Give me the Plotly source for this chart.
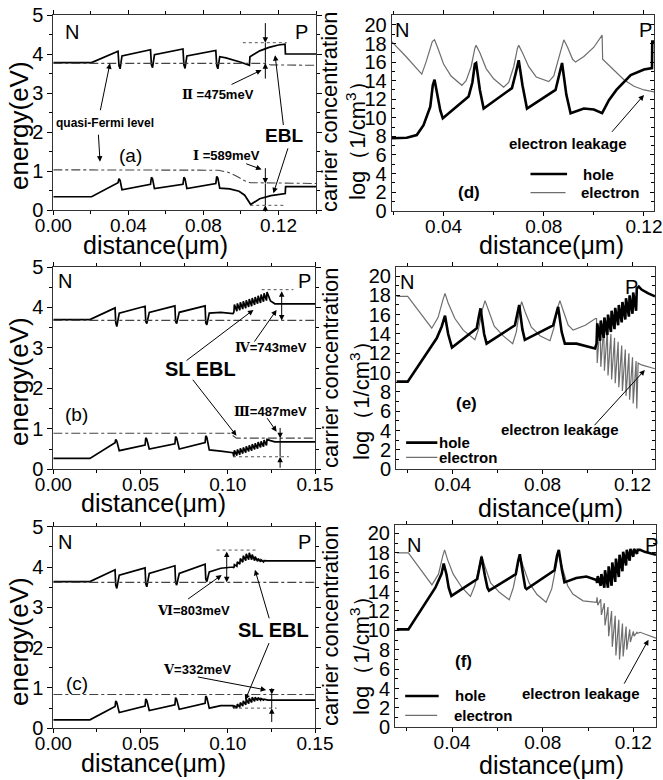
import plotly.graph_objects as go

W, H = 663, 780
FONT = "Liberation Sans, Arial, sans-serif"

# ---------------- data ----------------
# panel (a): energy band diagram, conventional EBL
a_cb_x = [0, 0.0204, 0.0345, 0.0350, 0.0356, 0.0366, 0.0518, 0.0523, 0.0529, 0.0539, 0.0691, 0.0696, 0.0702,
          0.0712, 0.0866, 0.0871, 0.0877, 0.0887, 0.0920, 0.0960, 0.1000, 0.1045, 0.1048, 0.1100, 0.1150, 0.1200,
          0.1235, 0.1237, 0.14]
a_cb_y = [3.78, 3.78, 4.07, 3.70, 3.62, 3.95, 4.11, 3.72, 3.65, 3.98, 4.13, 3.72, 3.63, 3.95, 4.09, 3.70, 3.62,
          3.93, 3.90, 3.85, 3.79, 3.71, 3.93, 4.08, 4.17, 4.23, 4.25, 4.00, 4.00]
a_fu_x = [0, 0.112, 0.116, 0.14]
a_fu_y = [3.76, 3.76, 3.72, 3.71]
a_vb_x = [0, 0.0204, 0.0345, 0.0350, 0.0356, 0.0366, 0.0518, 0.0523, 0.0529, 0.0539, 0.0691, 0.0696, 0.0702,
          0.0712, 0.0866, 0.0871, 0.0877, 0.0887, 0.0940, 0.0990, 0.1020, 0.1040, 0.1052, 0.1100, 0.1160, 0.1236,
          0.1238, 0.14]
a_vb_y = [0.34, 0.34, 0.70, 0.80, 0.76, 0.52, 0.66, 0.84, 0.80, 0.55, 0.66, 0.84, 0.80, 0.55, 0.68, 0.86, 0.82,
          0.56, 0.54, 0.48, 0.38, 0.25, 0.14, 0.29, 0.37, 0.42, 0.60, 0.60]
a_fl_x = [0, 0.088, 0.093, 0.098, 0.102, 0.105, 0.14]
a_fl_y = [1.03, 1.02, 0.97, 0.86, 0.75, 0.70, 0.68]

# panels (b) and (c): shared QW positions
qw_x = [0, 0.021, 0.0354, 0.0358, 0.0364, 0.0378, 0.0526, 0.0530, 0.0536, 0.0550, 0.0697, 0.0701, 0.0707, 0.0722,
        0.0870, 0.0874, 0.0880, 0.0894, 0.0960, 0.1030]
# (b)
b_cb_y = [3.70, 3.70, 3.99, 3.62, 3.53, 3.86, 4.03, 3.65, 3.60, 3.88, 4.04, 3.65, 3.60, 3.88, 4.04, 3.62, 3.57,
          3.86, 3.88, 3.85]
b_sl_x = [0.1035, 0.1052, 0.1069, 0.1086, 0.1103, 0.1120, 0.1137, 0.1154, 0.1171, 0.1188, 0.1205, 0.1222]
b_cb_lo = [3.88, 3.91, 3.93, 3.96, 3.98, 4.01, 4.03, 4.06, 4.09, 4.11, 4.14, 4.17]
b_cb_hi = [4.07, 4.10, 4.13, 4.15, 4.18, 4.21, 4.23, 4.26, 4.29, 4.32, 4.35, 4.38]
b_cb_tail_x = [0.1245, 0.1270, 0.15]
b_cb_tail_y = [4.16, 4.09, 4.09]
b_vb_y = [0.27, 0.27, 0.66, 0.74, 0.70, 0.46, 0.60, 0.78, 0.74, 0.50, 0.63, 0.81, 0.77, 0.50, 0.66, 0.83, 0.79,
          0.48, 0.45, 0.41]
b_vb_lo = [0.31, 0.34, 0.36, 0.39, 0.41, 0.44, 0.46, 0.49, 0.51, 0.54, 0.56, 0.59]
b_vb_hi = [0.47, 0.49, 0.52, 0.54, 0.57, 0.59, 0.62, 0.64, 0.67, 0.69, 0.72, 0.74]
b_vb_tail_x = [0.1245, 0.1270, 0.15]
b_vb_tail_y = [0.71, 0.68, 0.68]
b_fu_x, b_fu_y = [0, 0.15], [3.68, 3.68]
b_fl_x, b_fl_y = [0, 0.101, 0.105, 0.15], [0.89, 0.89, 0.77, 0.77]
# (c)
c_cb_y = [3.64, 3.64, 3.93, 3.55, 3.47, 3.80, 3.98, 3.58, 3.51, 3.84, 4.03, 3.62, 3.55, 3.84, 4.07, 3.70, 3.64,
          3.88, 3.97, 4.00]
c_sl_x = [0.1035, 0.1052, 0.1069, 0.1086, 0.1103, 0.1120, 0.1137, 0.1154, 0.1171, 0.1188, 0.1205]
c_cb_lo = [3.98, 4.02, 4.07, 4.12, 4.16, 4.18, 4.18, 4.16, 4.14, 4.13, 4.13]
c_cb_hi = [4.06, 4.13, 4.21, 4.28, 4.33, 4.35, 4.31, 4.26, 4.21, 4.18, 4.16]
c_cb_tail_x = [0.1230, 0.130, 0.15]
c_cb_tail_y = [4.15, 4.15, 4.15]
c_vb_y = [0.21, 0.21, 0.54, 0.68, 0.64, 0.39, 0.55, 0.73, 0.69, 0.44, 0.58, 0.76, 0.72, 0.47, 0.62, 0.80, 0.76,
          0.50, 0.56, 0.56]
c_vb_lo = [0.50, 0.50, 0.52, 0.55, 0.58, 0.61, 0.64, 0.67, 0.69, 0.70, 0.70]
c_vb_hi = [0.56, 0.60, 0.64, 0.68, 0.72, 0.75, 0.77, 0.77, 0.76, 0.74, 0.72]
c_vb_tail_x = [0.1230, 0.15]
c_vb_tail_y = [0.70, 0.70]
c_fu_x, c_fu_y = [0, 0.15], [3.62, 3.62]
c_fl_x, c_fl_y = [0, 0.15], [0.84, 0.84]

# (d): carrier concentration, conventional EBL
d_e_x = [0.0193, 0.025, 0.0313, 0.033, 0.0355, 0.0364, 0.038, 0.040, 0.043, 0.0473, 0.049, 0.051, 0.0525, 0.053,
         0.0545, 0.057, 0.060, 0.064, 0.066, 0.068, 0.0695, 0.070, 0.0715, 0.074, 0.077, 0.082, 0.084, 0.086,
         0.0875, 0.088, 0.0895, 0.0915, 0.0927, 0.096, 0.100, 0.1033, 0.1035, 0.108, 0.112, 0.116, 0.120, 0.124]
d_e_y = [18.2, 16.6, 14.7, 16.0, 18.2, 18.4, 17.3, 15.8, 14.5, 13.5, 14.0, 15.5, 17.5, 17.8, 17.0, 15.3, 14.2,
         13.3, 13.8, 15.5, 17.5, 17.8, 17.0, 15.5, 14.4, 13.9, 14.5, 16.5, 18.2, 18.4, 17.6, 16.3, 16.0, 16.6,
         17.6, 18.9, 16.3, 15.1, 14.1, 13.4, 13.0, 12.8]
d_h_x = [0.0193, 0.0253, 0.0293, 0.0320, 0.0347, 0.0357, 0.0364, 0.0375, 0.0387, 0.0397, 0.0500, 0.0515, 0.0525,
         0.0530, 0.0545, 0.0560, 0.0673, 0.0688, 0.0700, 0.0715, 0.0733, 0.0847, 0.0862, 0.0873, 0.0890, 0.0907,
         0.0960, 0.1000, 0.1033, 0.1060, 0.1090, 0.1147, 0.1200, 0.1232, 0.1233, 0.124]
d_h_y = [7.8, 7.85, 8.15, 9.2, 11.2, 13.5, 14.1, 12.5, 10.8, 9.95, 12.3, 13.8, 15.8, 15.9, 13.0, 11.0, 13.2,
         14.8, 16.2, 13.5, 11.0, 13.0, 14.8, 15.9, 12.5, 10.5, 11.0, 10.9, 10.5, 11.9, 13.0, 14.6, 15.2, 15.35,
         18.2, 18.2]

# (e): carrier concentration, SL EBL
e_h_x = [0.0151, 0.0200, 0.0329, 0.0351, 0.0366, 0.0380, 0.0397, 0.0507, 0.0518, 0.0524, 0.0540, 0.0551, 0.0677,
         0.0690, 0.0696, 0.0710, 0.0721, 0.0847, 0.0862, 0.0869, 0.0885, 0.0899, 0.0951, 0.1033]
e_h_y = [9.07, 9.07, 13.55, 14.75, 15.9, 14.0, 12.6, 14.6, 16.0, 16.65, 14.0, 13.0, 14.9, 16.5, 17.0, 14.5, 13.4,
         14.9, 16.3, 16.8, 14.2, 13.0, 13.0, 12.5]
e_sl_x = [0.1040, 0.1056, 0.1072, 0.1088, 0.1104, 0.1120, 0.1136, 0.1152, 0.1168, 0.1184, 0.1200, 0.1216]
e_h_lo = [13.0, 13.3, 13.6, 13.9, 14.2, 14.5, 14.9, 15.2, 15.5, 15.8, 16.1, 16.4]
e_h_hi = [15.1, 15.4, 15.7, 16.0, 16.4, 16.7, 17.0, 17.3, 17.7, 18.0, 18.3, 18.7]
e_h_tail_x = [0.1228, 0.1240, 0.1270, 0.130]
e_h_tail_y = [18.9, 18.6, 18.2, 17.9]
e_e_x = [0.0151, 0.0200, 0.0307, 0.0335, 0.0355, 0.0366, 0.0380, 0.0410, 0.0447, 0.0499, 0.0515, 0.0533, 0.0544,
         0.0558, 0.0585, 0.0625, 0.0667, 0.0683, 0.0698, 0.0707, 0.0722, 0.0750, 0.0790, 0.0833, 0.0850, 0.0867,
         0.0877, 0.0892, 0.0914, 0.0936, 0.0990, 0.1035]
e_e_y = [17.9, 17.9, 14.6, 15.7, 17.4, 18.2, 17.2, 15.6, 14.4, 13.4, 14.5, 16.6, 17.45, 16.5, 14.8, 13.8, 13.0,
         14.2, 16.5, 17.35, 16.3, 14.7, 13.8, 13.3, 14.6, 16.7, 17.45, 16.4, 14.9, 14.4, 14.9, 15.6]
e_e_hi = [15.6, 15.2, 14.8, 14.4, 14.0, 13.6, 13.2, 12.8, 12.4, 12.0, 11.6, 11.2]
e_e_lo = [11.0, 10.6, 10.2, 9.7, 9.3, 8.9, 8.5, 8.1, 7.6, 7.2, 6.8, 6.3]
e_e_tail_x = [0.1225, 0.1240, 0.130]
e_e_tail_y = [11.0, 10.8, 10.4]

# (f): carrier concentration, graded SL EBL
f_h_x = [0.0156, 0.0207, 0.0326, 0.0353, 0.0363, 0.0375, 0.0385, 0.0397, 0.0511, 0.0522, 0.0530, 0.0545, 0.0556,
         0.0563, 0.0681, 0.0692, 0.0699, 0.0713, 0.0723, 0.0729, 0.0852, 0.0863, 0.0871, 0.0885, 0.0896, 0.0948,
         0.0993, 0.1037]
f_h_y = [10.1, 10.1, 14.4, 15.8, 16.9, 15.8, 14.4, 13.55, 15.3, 16.9, 17.6, 15.6, 14.4, 14.1, 15.8, 17.2, 17.85,
         15.8, 14.4, 14.25, 16.2, 17.7, 18.3, 16.2, 14.95, 15.4, 15.55, 15.2]
f_sl_x = [0.1040, 0.1056, 0.1072, 0.1088, 0.1104, 0.1120, 0.1136, 0.1152, 0.1168, 0.1184, 0.1200, 0.1216]
f_h_lo = [14.9, 14.6, 14.4, 14.4, 14.6, 15.0, 15.5, 16.1, 16.7, 17.2, 17.6, 17.9]
f_h_hi = [15.6, 15.8, 16.2, 16.6, 17.0, 17.4, 17.8, 18.1, 18.3, 18.4, 18.4, 18.3]
f_h_tail_x = [0.1230, 0.1250, 0.1300]
f_h_tail_y = [18.3, 18.1, 17.8]
f_e_x = [0.0156, 0.0207, 0.0311, 0.0340, 0.0358, 0.0367, 0.0380, 0.0405, 0.0444, 0.0481, 0.0500, 0.0520, 0.0530,
         0.0545, 0.0570, 0.0610, 0.0652, 0.0670, 0.0690, 0.0699, 0.0714, 0.0740, 0.0775, 0.0815, 0.0840, 0.0862,
         0.0871, 0.0885, 0.0910, 0.0933, 0.0978, 0.1037]
f_e_y = [18.0, 18.0, 14.7, 15.8, 17.6, 18.3, 17.3, 15.8, 14.4, 13.5, 14.6, 16.9, 17.7, 16.6, 14.9, 13.9, 13.15,
         14.4, 16.9, 17.7, 16.6, 14.9, 13.7, 12.9, 14.3, 17.1, 18.1, 16.6, 14.6, 13.75, 13.05, 12.9]
f_e_hi = [13.4, 13.2, 12.8, 12.4, 12.0, 11.5, 11.1, 10.7, 10.4, 10.1, 9.9, 9.8]
f_e_lo = [12.6, 11.6, 10.5, 9.4, 8.3, 7.4, 7.0, 7.3, 8.0, 8.8, 9.4, 9.7]
f_e_tail_x = [0.1230, 0.130]
f_e_tail_y = [9.8, 9.2]


# ---------------- helpers ----------------
def saw(xs, first, second, dx=0.0003):
    px, py = [], []
    for x, u, v in zip(xs, first, second):
        px += [x, x + dx]
        py += [u, v]
    return px, py


def join(bx, by, sx, s1, s2, tx, ty):
    px, py = saw(sx, s1, s2)
    return bx + px + tx, by + py + ty


def dom_x(l, r):
    return [l / W, r / W]


def dom_y(t, b):
    return [1 - b / H, 1 - t / H]


panels = {
    'a': dict(n='', xd=(53.3, 316), yd=(15, 210), xr=[0, 0.14], yr=[0, 5], xdt=0.04, xmn=0.02, ydt=1, ymn=0.5, left=True),
    'd': dict(n='2', xd=(391.7, 654), yd=(15, 210.7), xr=[0.0193, 0.124], yr=[0, 21.07], xdt=0.04, xmn=0.02, ydt=2, ymn=1, left=False),
    'b': dict(n='3', xd=(53.3, 315), yd=(267, 469.3), xr=[0, 0.15], yr=[0, 5], xdt=0.05, xmn=0.025, ydt=1, ymn=0.5, left=True),
    'e': dict(n='4', xd=(396, 655), yd=(267.3, 469.3), xr=[0.0148, 0.130], yr=[0, 20.9], xdt=0.04, xmn=0.02, ydt=2, ymn=1, left=False),
    'c': dict(n='5', xd=(53.3, 315), yd=(526.7, 728.3), xr=[0, 0.15], yr=[0, 5], xdt=0.05, xmn=0.025, ydt=1, ymn=0.5, left=True),
    'f': dict(n='6', xd=(395, 656), yd=(525, 727.3), xr=[0.0148, 0.130], yr=[0, 20.87], xdt=0.04, xmn=0.02, ydt=2, ymn=1, left=False),
}

fig = go.Figure()


def ref(p):
    n = panels[p]['n']
    return 'x' + n, 'y' + n


def line(p, x, y, color='black', width=1.8, dash='solid'):
    xr_, yr_ = ref(p)
    fig.add_trace(go.Scatter(x=x, y=y, mode='lines', xaxis=xr_, yaxis=yr_, showlegend=False, hoverinfo='skip',
                             line=dict(color=color, width=width, dash=dash)))


BAND = dict(color='black', width=1.7)
FERMI = dict(color='#444444', width=1.1, dash='dashdot')
HOLE = dict(color='black', width=2.6)
ELEC = dict(color='#6e6e6e', width=1.2)

# (a)
line('a', a_cb_x, a_cb_y, **BAND)
line('a', a_vb_x, a_vb_y, **BAND)
line('a', a_fu_x, a_fu_y, **FERMI)
line('a', a_fl_x, a_fl_y, **FERMI)
# (b)
line('b', *join(qw_x, b_cb_y, b_sl_x, b_cb_lo, b_cb_hi, b_cb_tail_x, b_cb_tail_y), **BAND)
line('b', *join(qw_x, b_vb_y, b_sl_x, b_vb_lo, b_vb_hi, b_vb_tail_x, b_vb_tail_y), **BAND)
line('b', b_fu_x, b_fu_y, **FERMI)
line('b', b_fl_x, b_fl_y, **FERMI)
# (c)
line('c', *join(qw_x, c_cb_y, c_sl_x, c_cb_lo, c_cb_hi, c_cb_tail_x, c_cb_tail_y), **BAND)
line('c', *join(qw_x, c_vb_y, c_sl_x, c_vb_lo, c_vb_hi, c_vb_tail_x, c_vb_tail_y), **BAND)
line('c', c_fu_x, c_fu_y, **FERMI)
line('c', c_fl_x, c_fl_y, **FERMI)
# (d)
line('d', d_e_x, d_e_y, **ELEC)
line('d', d_h_x, d_h_y, **HOLE)
# (e)
line('e', *join(e_e_x, e_e_y, e_sl_x, e_e_hi, e_e_lo, e_e_tail_x, e_e_tail_y), **ELEC)
line('e', *join(e_h_x, e_h_y, e_sl_x, e_h_lo, e_h_hi, e_h_tail_x, e_h_tail_y), **HOLE)
# (f)
line('f', *join(f_e_x, f_e_y, f_sl_x, f_e_hi, f_e_lo, f_e_tail_x, f_e_tail_y), **ELEC)
line('f', *join(f_h_x, f_h_y, f_sl_x, f_h_lo, f_h_hi, f_h_tail_x, f_h_tail_y), **HOLE)

# ---------------- axes ----------------
layout = {}
for p, c in panels.items():
    n = c['n']
    tick_dir_y = 'outside' if c['left'] else 'inside'
    layout['xaxis' + n] = dict(
        domain=dom_x(*c['xd']), range=c['xr'], anchor='y' + n, tick0=0, dtick=c['xdt'], tickformat='.2f',
        ticks='outside', ticklen=4, tickwidth=1, tickcolor='black', showline=True, linecolor='#333333',
        linewidth=1, mirror='ticks', showgrid=False, zeroline=False, automargin=False, ticklabelstandoff=-6,
        tickfont=dict(family=FONT, size=19, color='black'),
        minor=dict(dtick=c['xmn'], tick0=0, ticks='outside', ticklen=3, tickcolor='black'))
    layout['yaxis' + n] = dict(
        domain=dom_y(*c['yd']), range=c['yr'], anchor='x' + n, tick0=0, dtick=c['ydt'],
        ticks=tick_dir_y, ticklen=5 if c['left'] else 4, tickwidth=1, tickcolor='black', showline=True,
        linecolor='#333333', linewidth=1, mirror='ticks', showgrid=False, zeroline=False, automargin=False,
        tickfont=dict(family=FONT, size=20, color='black'),
        minor=dict(dtick=c['ymn'], tick0=0, ticks=tick_dir_y, ticklen=3, tickcolor='black'))

annotations = []
shapes = []


def text(p, x, y, s, size, bold=False, xanchor='center', color='black'):
    xr_, yr_ = ref(p)
    annotations.append(dict(x=x, y=y, xref=xr_, yref=yr_, text=('<b>%s</b>' % s) if bold else s, showarrow=False,
                            xanchor=xanchor, yanchor='middle', font=dict(family=FONT, size=size, color=color)))


def arrow(p, x0, y0, x1, y1, side='end', width=1):
    xr_, yr_ = ref(p)
    annotations.append(dict(x=x1, y=y1, ax=x0, ay=y0, xref=xr_, yref=yr_, axref=xr_, ayref=yr_, text='',
                            showarrow=True, arrowhead=2, arrowsize=1.1, arrowwidth=width, arrowcolor='black',
                            arrowside=side, standoff=0, startstandoff=0))


def seg(p, x0, y0, x1, y1, dash='solid', color='black', width=1):
    xr_, yr_ = ref(p)
    shapes.append(dict(type='line', xref=xr_, yref=yr_, x0=x0, y0=y0, x1=x1, y1=y1,
                       line=dict(color=color, width=width, dash=dash)))


def ptxt(xpx, ypx, s, size, angle=0):
    annotations.append(dict(x=xpx / W, y=1 - ypx / H, xref='paper', yref='paper', text=s, showarrow=False,
                            textangle=angle, xanchor='center', yanchor='middle',
                            font=dict(family=FONT, size=size, color='black')))


# axis titles
for ypx in (126, 382, 642):
    ptxt(19, ypx, 'energy(eV)', 26, -90)
ptxt(155, 245, 'distance(μm)', 25)
ptxt(153, 503, 'distance(μm)', 25)
ptxt(153, 763, 'distance(μm)', 25)
ptxt(551, 245, 'distance(μm)', 25)
ptxt(550, 508, 'distance(μm)', 25)
ptxt(551, 765, 'distance(μm)', 25)
for (y1, y2, x2) in ((112, 135, 356), (368, 395, 360), (626, 650, 360)):
    ptxt(330, y1, 'carrier concentration', 22, -90)
    ptxt(x2, y2, 'log（1/cm<sup>3</sup>）', 22, -90)

RN = '<span style="font-family:DejaVu Serif">%s</span>'

# panel (a)
text('a', 0.0098, 4.57, 'N', 20)
text('a', 0.1324, 4.57, 'P', 20)
text('a', 0.0276, 2.22, 'quasi-Fermi level', 12, True)
arrow('a', 0.0249, 2.52, 0.0302, 3.76)
arrow('a', 0.0240, 1.97, 0.0249, 1.24)
text('a', 0.0409, 1.41, '(a)', 19)
text('a', 0.0880, 2.95, RN % 'Ⅱ' + ' =475meV', 13, True)
arrow('a', 0.0942, 3.20, 0.1110, 3.59)
text('a', 0.0924, 1.41, RN % 'Ⅰ' + ' =589meV', 13, True)
arrow('a', 0.1020, 1.20, 0.1110, 1.04)
text('a', 0.1230, 1.92, 'EBL', 19, True)
arrow('a', 0.1227, 2.14, 0.1182, 3.97)
arrow('a', 0.1253, 1.62, 0.1173, 0.43)
seg('a', 0.101, 4.29, 0.1244, 4.29, 'dot', '#555555')
seg('a', 0.105, 0.12, 0.124, 0.12, 'dot', '#555555')
arrow('a', 0.113, 4.83, 0.113, 4.29)
seg('a', 0.113, 4.29, 0.113, 3.76)
arrow('a', 0.113, 3.33, 0.113, 3.76)
arrow('a', 0.113, 1.11, 0.113, 0.68)
seg('a', 0.113, 0.68, 0.113, 0.12)
arrow('a', 0.113, -0.08, 0.113, 0.12)

# panel (b)
text('b', 0.0067, 4.65, 'N', 20)
text('b', 0.1440, 4.65, 'P', 20)
text('b', 0.1250, 3.00, RN % 'Ⅳ' + '=743meV', 13, True)
arrow('b', 0.1147, 3.12, 0.1280, 3.94)
text('b', 0.0841, 2.48, 'SL EBL', 20, True)
arrow('b', 0.0755, 2.66, 0.1147, 3.94)
arrow('b', 0.0793, 2.25, 0.1050, 0.83)
text('b', 0.1243, 1.43, RN % 'Ⅲ' + '=487meV', 13, True)
arrow('b', 0.1220, 1.30, 0.1280, 0.93)
text('b', 0.0134, 1.35, '(b)', 19)
seg('b', 0.1194, 4.44, 0.1376, 4.44, 'dot', '#555555')
seg('b', 0.1030, 0.31, 0.1350, 0.31, 'dot', '#555555')
arrow('b', 0.1309, 4.44, 0.1309, 3.68, 'end+start')
arrow('b', 0.1300, 1.06, 0.1300, 0.77)
seg('b', 0.1300, 0.77, 0.1300, 0.31)
arrow('b', 0.1300, 0.0, 0.1300, 0.31)

# panel (c)
text('c', 0.0067, 4.63, 'N', 20)
text('c', 0.1440, 4.63, 'P', 20)
text('c', 0.0803, 2.93, RN % 'Ⅵ' + '=803meV', 13, True)
arrow('c', 0.0764, 3.18, 0.0965, 3.80)
text('c', 0.1260, 2.44, 'SL EBL', 20, True)
arrow('c', 0.1240, 2.69, 0.1156, 3.93)
arrow('c', 0.1240, 2.15, 0.1100, 0.70)
text('c', 0.0826, 1.45, RN % 'Ⅴ' + '=332meV', 13, True)
arrow('c', 0.0820, 1.28, 0.1220, 0.95)
text('c', 0.0134, 1.12, '(c)', 19)
seg('c', 0.0936, 4.42, 0.1166, 4.42, 'dot', '#555555')
seg('c', 0.1030, 0.50, 0.1280, 0.50, 'dot', '#555555')
arrow('c', 0.0994, 4.42, 0.0994, 3.62, 'end+start')
arrow('c', 0.1252, 1.03, 0.1252, 0.84)
seg('c', 0.1252, 0.84, 0.1252, 0.50)
arrow('c', 0.1252, 0.12, 0.1252, 0.50)

# panel (d)
text('d', 0.0233, 19.5, 'N', 20)
text('d', 0.1207, 19.5, 'P', 20)
text('d', 0.0896, 7.25, 'electron leakage', 15, True)
arrow('d', 0.1067, 8.33, 0.1200, 12.46)
text('d', 0.0500, 1.94, '(d)', 17, True)
seg('d', 0.0747, 3.95, 0.0893, 3.95, color='black', width=2.6)
seg('d', 0.0747, 1.94, 0.0887, 1.94, color='#6e6e6e', width=1.2)
text('d', 0.1020, 3.95, 'hole', 15, True)
text('d', 0.1063, 1.94, 'electron', 15, True)

# panel (e)
text('e', 0.0196, 19.4, 'N', 20)
text('e', 0.1196, 18.9, 'P', 20)
text('e', 0.0462, 6.83, '(e)', 17, True)
text('e', 0.0877, 4.07, 'electron leakage', 15, True)
arrow('e', 0.1025, 4.41, 0.1255, 10.28)
seg('e', 0.0193, 2.76, 0.0332, 2.76, color='black', width=2.6)
seg('e', 0.0193, 1.24, 0.0332, 1.24, color='#6e6e6e', width=1.2)
text('e', 0.0330, 2.76, 'hole', 15, True, 'left')
text('e', 0.0330, 1.24, 'electron', 15, True, 'left')

# panel (f)
text('f', 0.0230, 18.78, 'N', 20)
text('f', 0.1281, 18.78, 'P', 20)
text('f', 0.0452, 6.78, '(f)', 17, True)
text('f', 0.0970, 3.48, 'electron leakage', 15, True)
arrow('f', 0.1156, 4.35, 0.1267, 9.04)
seg('f', 0.0193, 3.23, 0.0341, 3.23, color='black', width=2.6)
seg('f', 0.0193, 1.22, 0.0334, 1.22, color='#6e6e6e', width=1.2)
text('f', 0.0481, 3.23, 'hole', 15, True)
text('f', 0.0536, 1.22, 'electron', 15, True)

fig.update_layout(
    template='none', width=W, height=H, margin=dict(l=0, r=0, t=0, b=0),
    paper_bgcolor='white', plot_bgcolor='white', showlegend=False,
    font=dict(family=FONT, size=14, color='black'),
    annotations=annotations, shapes=shapes, **layout)

fig.write_html('out.html')
